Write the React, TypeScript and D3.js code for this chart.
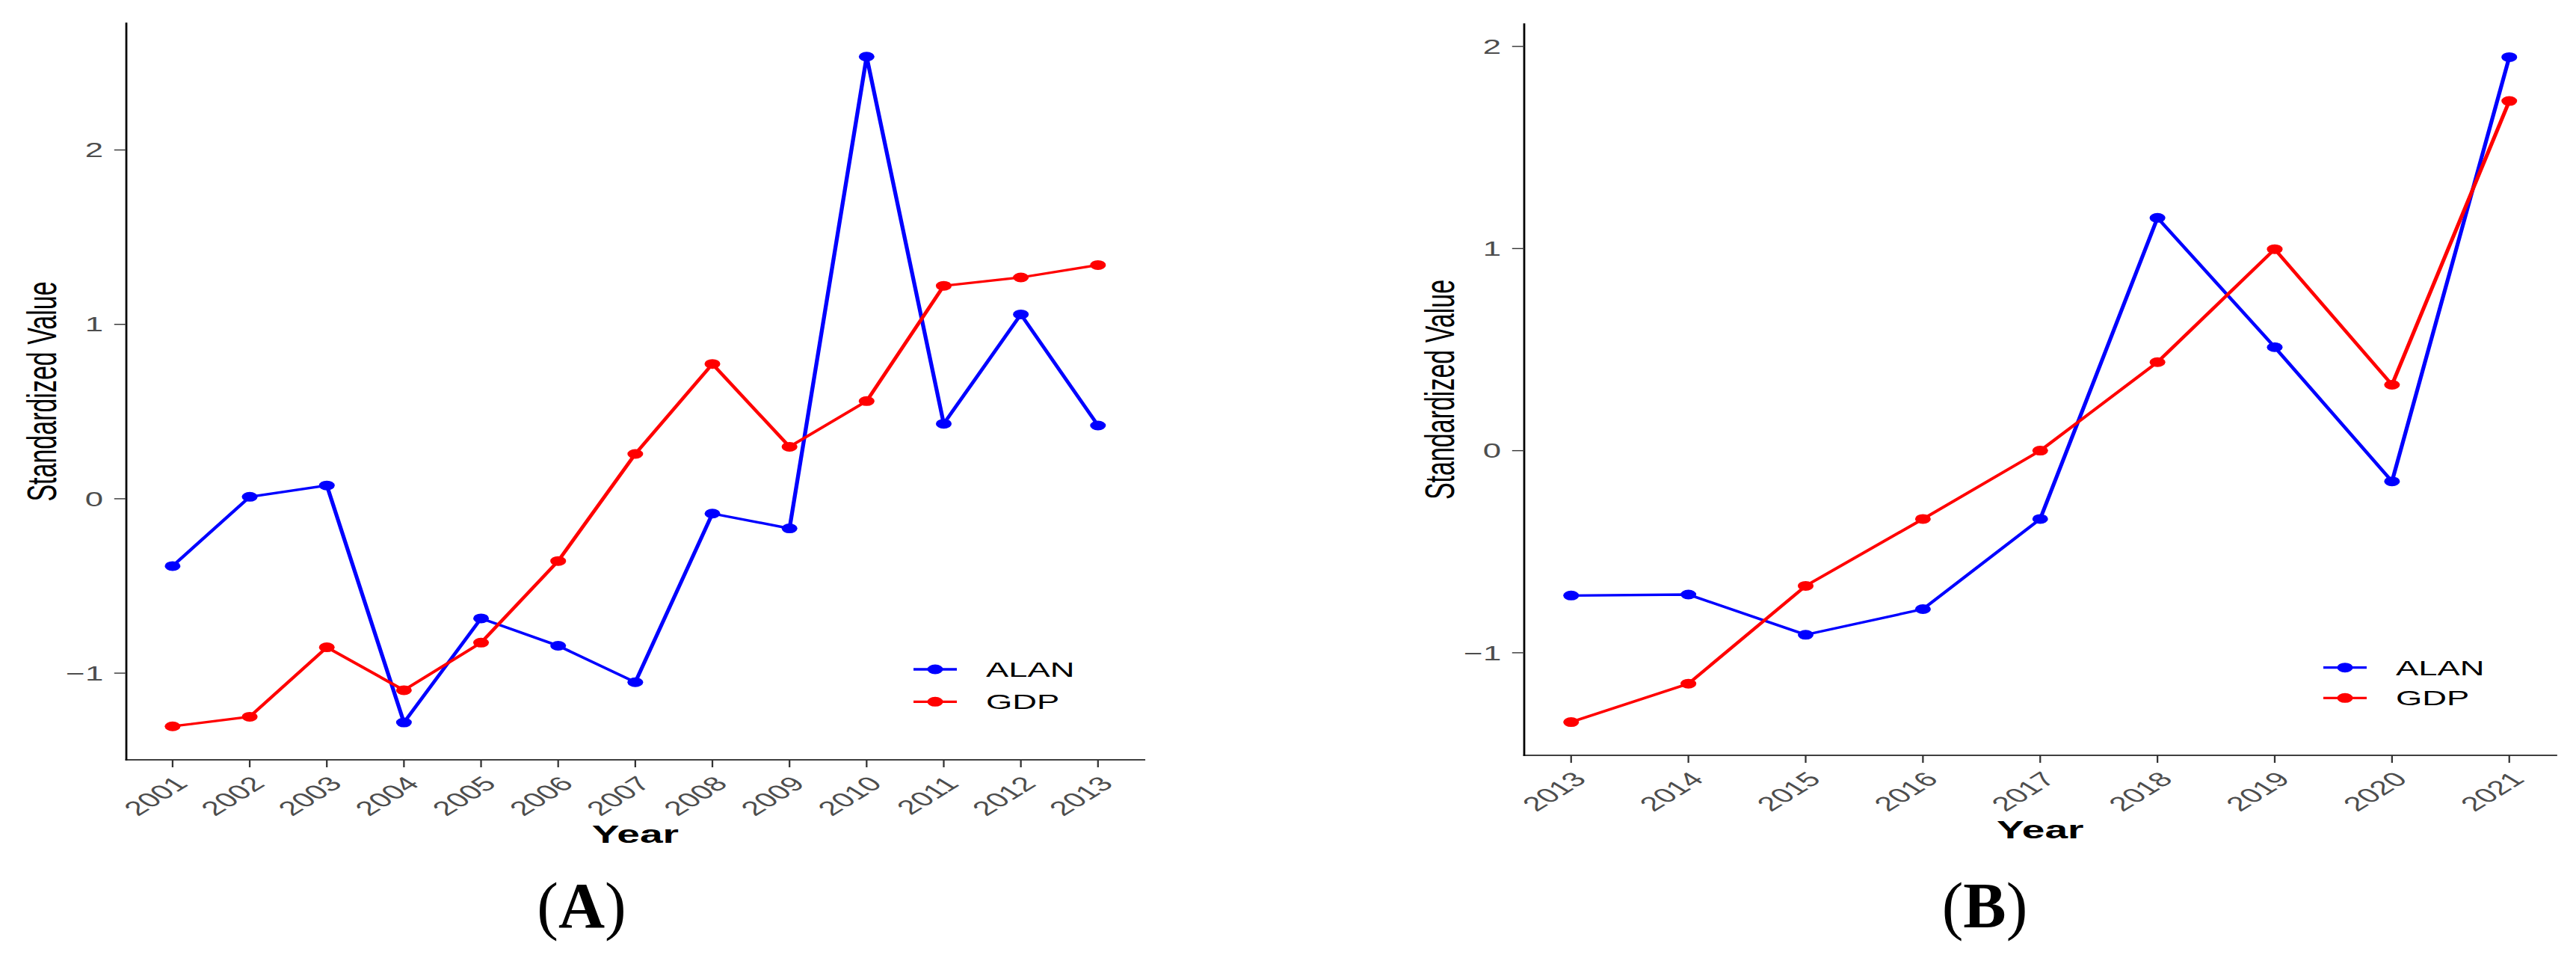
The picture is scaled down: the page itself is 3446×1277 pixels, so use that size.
import React from "react";
import * as d3 from "d3";

// the source figure was exported stretched sideways, so plots are drawn in an
// unstretched frame and then scaled by K on x
const K = 1.62;

const yearsA = [2001, 2002, 2003, 2004, 2005, 2006, 2007, 2008, 2009, 2010, 2011, 2012, 2013];
const alanA = [-0.386, 0.011, 0.076, -1.283, -0.686, -0.843, -1.052, -0.085, -0.17, 2.535, 0.43, 1.057, 0.42];
const gdpA = [-1.305, -1.25, -0.852, -1.098, -0.825, -0.357, 0.257, 0.773, 0.298, 0.56, 1.221, 1.269, 1.34];

const yearsB = [2013, 2014, 2015, 2016, 2017, 2018, 2019, 2020, 2021];
const alanB = [-0.717, -0.712, -0.911, -0.784, -0.338, 1.152, 0.512, -0.152, 1.947];
const gdpB = [-1.343, -1.153, -0.669, -0.338, 0.0, 0.438, 0.997, 0.326, 1.73];

const yTicks = [-1, 0, 1, 2];
const seriesNames = ["ALAN", "GDP"];
const seriesColors = ["#0000FF", "#FF0000"];

const SANS = "'Liberation Sans', Arial, sans-serif";
const SERIF = "'Liberation Serif', 'Times New Roman', serif";

const fmt = (v: number) => (v < 0 ? "\u2212" + Math.abs(v) : String(v));

function Panel(props: any) {
  const { years, alan, gdp, left, right, top, bottom, legendX, legendY, legendGap } = props;

  const xPad = (years[years.length - 1] - years[0]) * 0.05;
  const x = d3
    .scaleLinear()
    .domain([years[0] - xPad, years[years.length - 1] + xPad])
    .range([left / K, right / K]);

  const [lo, hi] = d3.extent(alan.concat(gdp)) as [number, number];
  const yPad = (hi - lo) * 0.05;
  const y = d3.scaleLinear().domain([lo - yPad, hi + yPad]).range([bottom, top]);

  const line = d3
    .line<number>()
    .x((_, i) => x(years[i]))
    .y((d) => y(d));

  const ax = left / K;
  const tick = 10;
  const series = [alan, gdp];

  return (
    <g transform={`scale(${K},1)`}>
      {/* axes */}
      <line x1={ax} x2={ax} y1={top} y2={bottom} stroke="#000" strokeWidth={1.7} strokeLinecap="square" />
      <line x1={ax} x2={right / K} y1={bottom} y2={bottom} stroke="#000" strokeWidth={1.7} strokeLinecap="square" />

      {yTicks.map((t) => (
        <g key={`y${t}`}>
          <line x1={ax - tick} x2={ax} y1={y(t)} y2={y(t)} stroke="#333" strokeWidth={1.4} />
          <text
            x={ax - tick - 9}
            y={y(t)}
            dy="0.36em"
            textAnchor="end"
            fontFamily={SANS}
            fontSize={27}
            fill="#4D4D4D"
          >
            {fmt(t)}
          </text>
        </g>
      ))}

      {years.map((yr: number) => (
        <g key={`x${yr}`}>
          <line x1={x(yr)} x2={x(yr)} y1={bottom} y2={bottom + tick} stroke="#333" strokeWidth={1.4} />
          <text
            transform={`translate(${x(yr)},${bottom + 20}) rotate(-45)`}
            dy="0.72em"
            textAnchor="end"
            fontFamily={SANS}
            fontSize={27}
            fill="#4D4D4D"
          >
            {yr}
          </text>
        </g>
      ))}

      {/* titles */}
      <text
        x={(left / K + right / K) / 2}
        y={bottom + 111}
        textAnchor="middle"
        fontFamily={SANS}
        fontSize={34}
        fontWeight="bold"
        fill="#000"
      >
        Year
      </text>
      <text
        transform={`translate(${ax - 58},${(top + bottom) / 2}) rotate(-90)`}
        textAnchor="middle"
        fontFamily={SANS}
        fontSize={34}
        fill="#000"
      >
        Standardized Value
      </text>

      {/* series */}
      {series.map((s, si) => (
        <g key={seriesNames[si]}>
          <path d={line(s) ?? ""} fill="none" stroke={seriesColors[si]} strokeWidth={3.3} strokeLinejoin="round" />
          {s.map((v: number, i: number) => (
            <circle key={i} cx={x(years[i])} cy={y(v)} r={6.5} fill={seriesColors[si]} />
          ))}
        </g>
      ))}

      {/* legend */}
      {seriesNames.map((name, si) => {
        const ly = legendY + si * legendGap;
        return (
          <g key={`lg${name}`}>
            <line
              x1={legendX / K}
              x2={(legendX + 58) / K}
              y1={ly}
              y2={ly}
              stroke={seriesColors[si]}
              strokeWidth={3.3}
            />
            <circle cx={(legendX + 29) / K} cy={ly} r={6.5} fill={seriesColors[si]} />
            <text
              x={(legendX + 97) / K}
              y={ly}
              dy="0.36em"
              fontFamily={SANS}
              fontSize={28}
              fill="#000"
            >
              {name}
            </text>
          </g>
        );
      })}
    </g>
  );
}

function Tag({ label, x }: { label: string; x: number }) {
  return (
    <text x={x} y={1240} textAnchor="middle" fontFamily={SERIF} fontSize={86} fill="#000">
      (<tspan fontWeight="bold">{label}</tspan>)
    </text>
  );
}

export default function App() {
  return (
    <div style={{ position: "absolute", left: 0, top: 0, background: "#fff" }}>
      <svg width={3446} height={1277} style={{ display: "block", background: "#fff" }}>
        <Panel
          years={yearsA}
          alan={alanA}
          gdp={gdpA}
          left={169}
          right={1530.7}
          top={31}
          bottom={1016}
          legendX={1222}
          legendY={895}
          legendGap={43.3}
        />
        <Panel
          years={yearsB}
          alan={alanB}
          gdp={gdpB}
          left={2039}
          right={3419.5}
          top={32}
          bottom={1010}
          legendX={3108}
          legendY={892.7}
          legendGap={40.6}
        />
        <Tag label="A" x={778} />
        <Tag label="B" x={2655} />
      </svg>
    </div>
  );
}
